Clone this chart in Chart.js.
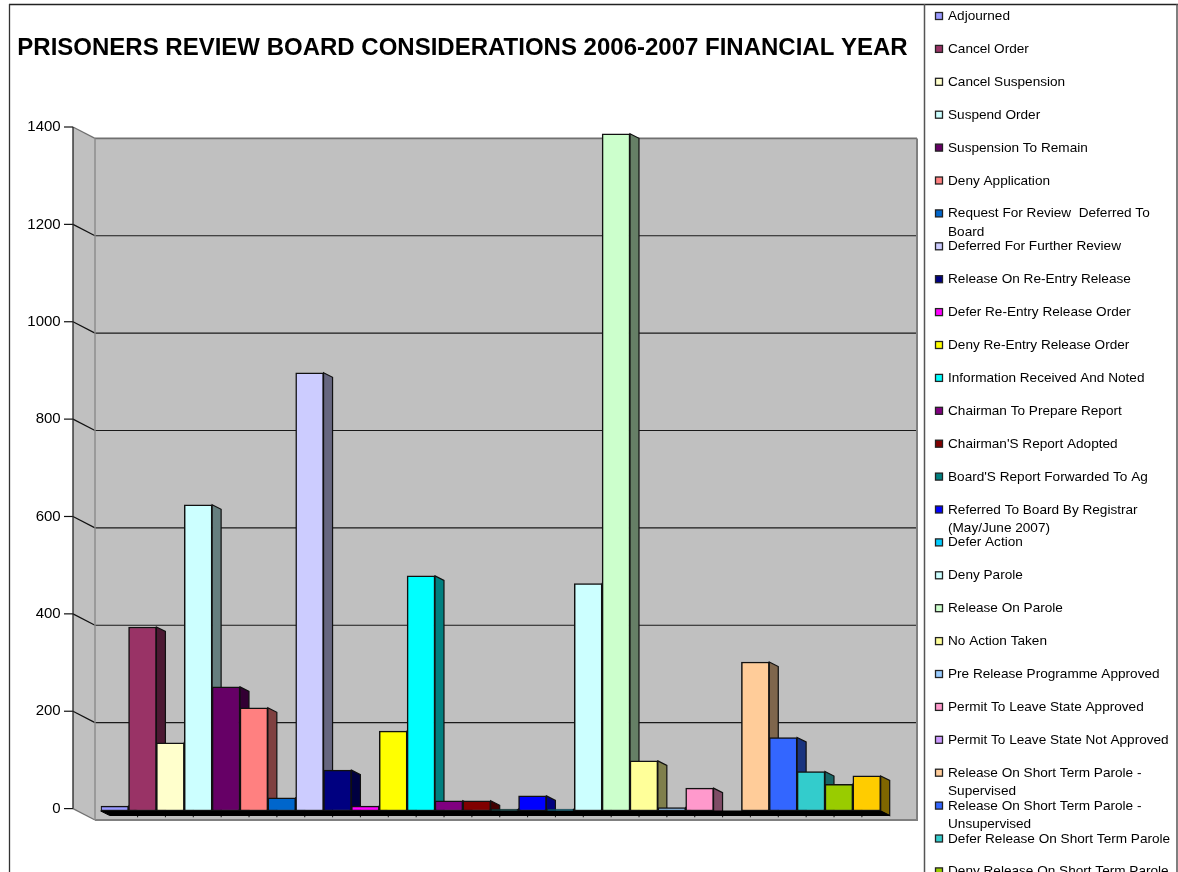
<!DOCTYPE html>
<html>
<head>
<meta charset="utf-8">
<title>Prisoners Review Board Considerations</title>
<style>
  html, body { margin: 0; padding: 0; background: #fff; overflow: hidden; }
  canvas { display: block; }
</style>
<script src="https://cdn.jsdelivr.net/npm/chart.js@4/dist/chart.umd.min.js"></script>
</head>
<body>
<canvas id="board" width="1178" height="872"></canvas>
<script>
const titleText = 'PRISONERS REVIEW BOARD CONSIDERATIONS 2006-2007 FINANCIAL YEAR';

const categories = [
  'Adjourned', 'Cancel Order', 'Cancel Suspension', 'Suspend Order',
  'Suspension To Remain', 'Deny Application', 'Request For Review  Deferred To Board',
  'Deferred For Further Review', 'Release On Re-Entry Release', 'Defer Re-Entry Release Order',
  'Deny Re-Entry Release Order', 'Information Received And Noted', 'Chairman To Prepare Report',
  "Chairman'S Report Adopted", "Board'S Report Forwarded To Ag",
  'Referred To Board By Registrar (May/June 2007)', 'Defer Action', 'Deny Parole',
  'Release On Parole', 'No Action Taken', 'Pre Release Programme Approved',
  'Permit To Leave State Approved', 'Permit To Leave State Not Approved',
  'Release On Short Term Parole - Supervised', 'Release On Short Term Parole - Unsupervised',
  'Defer Release On Short Term Parole', 'Deny Release On Short Term Parole', ''
];

const counts = [
  10, 378, 140, 629, 255, 212, 27, 900, 84, 10, 164, 483, 21, 21,
  4, 31, 4, 467, 1391, 103, 7, 47, 0, 306, 151, 81, 55, 72
];

const barColors = [
  '#9999FF', '#993366', '#FFFFCC', '#CCFFFF', '#660066', '#FF8080', '#0066CC',
  '#CCCCFF', '#000080', '#FF00FF', '#FFFF00', '#00FFFF', '#800080', '#800000',
  '#008080', '#0000FF', '#00CCFF', '#CCFFFF', '#CCFFCC', '#FFFF99', '#99CCFF',
  '#FF99CC', '#CC99FF', '#FFCC99', '#3366FF', '#33CCCC', '#99CC00', '#FFCC00'
];

// Pseudo-3D box geometry, in canvas pixels.
const WALL_DX = 22, WALL_DY = 11.4;      // front axis to back wall
const BAR_DROP = 2.4;                    // bar plane sits just behind the front axis
const SIDE_DX = 9, SIDE_DY = 4.5;        // depth of each column
const AXIS_X = 73, TICK_LEN = 9;
const WALL_RIGHT = 917;

function shade(hex) {
  const n = parseInt(hex.slice(1), 16);
  const half = v => (v >> 1);
  return `rgb(${half(n >> 16 & 255)},${half(n >> 8 & 255)},${half(n & 255)})`;
}

function poly(ctx, pts, fill, stroke, width) {
  ctx.beginPath();
  pts.forEach((p, i) => i ? ctx.lineTo(p[0], p[1]) : ctx.moveTo(p[0], p[1]));
  ctx.closePath();
  if (fill) { ctx.fillStyle = fill; ctx.fill(); }
  if (stroke) { ctx.strokeStyle = stroke; ctx.lineWidth = width || 1; ctx.stroke(); }
}

function line(ctx, x1, y1, x2, y2, color, width) {
  ctx.beginPath();
  ctx.moveTo(x1, y1);
  ctx.lineTo(x2, y2);
  ctx.strokeStyle = color;
  ctx.lineWidth = width || 1;
  ctx.stroke();
}

// Outer frame and the legend's box.
const framePlugin = {
  id: 'frame',
  beforeDraw(chart) {
    const ctx = chart.ctx;
    ctx.save();
    line(ctx, 9, 4.5, 1178, 4.5, '#222', 1.3);
    line(ctx, 9.5, 4, 9.5, 872, '#333', 1.3);
    line(ctx, 924.5, 4, 924.5, 872, '#555', 1.5);
    line(ctx, 1177, 4, 1177, 872, '#555', 1.5);
    ctx.restore();
  }
};

// Walls, gridlines, column sides and the dark underside of the column row.
const boxPlugin = {
  id: 'box',
  beforeDatasetsDraw(chart) {
    const ctx = chart.ctx;
    const y = chart.scales.y;
    const x = chart.scales.x;
    const topY = y.getPixelForValue(1400), zeroY = y.getPixelForValue(0);
    const backX = AXIS_X + WALL_DX;

    ctx.save();
    poly(ctx, [[AXIS_X, topY], [backX, topY + WALL_DY], [backX, zeroY + WALL_DY], [AXIS_X, zeroY]], '#C0C0C0');
    ctx.fillStyle = '#C0C0C0';
    ctx.fillRect(backX, topY + WALL_DY, WALL_RIGHT - backX, zeroY - topY);

    y.ticks.forEach(t => {
      const py = y.getPixelForValue(t.value);
      const isEdge = t.value === 1400 || t.value === 0;
      line(ctx, AXIS_X - TICK_LEN, py, AXIS_X, py, '#111', 1.2);
      line(ctx, AXIS_X, py, backX, py + WALL_DY, isEdge ? '#707070' : '#111', 1.2);
      if (!isEdge) line(ctx, backX, py + WALL_DY, WALL_RIGHT, py + WALL_DY, '#1a1a1a', 1.2);
    });

    line(ctx, backX, topY + WALL_DY, WALL_RIGHT, topY + WALL_DY, '#707070', 1.8);
    line(ctx, backX, zeroY + WALL_DY, WALL_RIGHT + 1, zeroY + WALL_DY, '#808080', 2);
    line(ctx, backX, topY + WALL_DY, backX, zeroY + WALL_DY, '#8A8A8A', 1.4);
    line(ctx, WALL_RIGHT, topY + WALL_DY, WALL_RIGHT, zeroY + WALL_DY, '#808080', 2);
    line(ctx, AXIS_X, topY, AXIS_X, zeroY, '#222', 1.3);

    const bars = chart.getDatasetMeta(0).data;
    const step = bars[1].x - bars[0].x;
    const base = zeroY + BAR_DROP;

    // Category ticks, tucked behind the row of columns.
    for (let i = 1; i < bars.length; i++) {
      const tx = x.getPixelForValue(i) - step / 2 + SIDE_DX;
      line(ctx, tx, base + SIDE_DY, tx, base + SIDE_DY + 1.8, '#222', 1);
    }

    // Side faces go down first; the next column's front covers what it should.
    bars.forEach((bar, i) => {
      const { x: cx, y: by, width } = bar.getProps(['x', 'y', 'width'], true);
      const r = cx + width / 2;
      const top = by + BAR_DROP;
      if (base - top < 0.5) return;
      poly(ctx, [[r, top], [r + SIDE_DX, top + SIDE_DY], [r + SIDE_DX, base + SIDE_DY], [r, base]],
        shade(barColors[i]), '#111', 1.2);
    });

    poly(ctx, [[chart.chartArea.left, base], [chart.chartArea.right, base],
      [chart.chartArea.right + SIDE_DX, base + SIDE_DY], [chart.chartArea.left + SIDE_DX, base + SIDE_DY]],
      '#000', '#000', 1);
    ctx.restore();

    // The fronts themselves are drawn by the bar controller, in the bar plane.
    ctx.save();
    ctx.translate(0, BAR_DROP);
  },
  afterDatasetsDraw(chart) {
    chart.ctx.restore();
  },
  afterLayout(chart) {
    // Centre the heading over the plot part of the page, not the whole canvas.
    chart.titleBlock.left = 0;
    chart.titleBlock.right = 925;
  }
};

// Legend rows keep a fixed pitch, so wrapped labels run into the row below.
const legendPlugin = {
  id: 'boardLegend',
  afterDraw(chart) {
    const ctx = chart.ctx;
    const pitch = 32.9, firstBaseline = 20, markerX = 935.5, textX = 948, maxWidth = 226;
    ctx.save();
    ctx.font = '13.6px "Liberation Sans", Arial, sans-serif';
    ctx.textBaseline = 'alphabetic';
    ctx.textAlign = 'left';
    categories.forEach((name, i) => {
      if (!name) return;
      const baseline = firstBaseline + pitch * i;
      ctx.fillStyle = barColors[i];
      ctx.strokeStyle = '#222';
      ctx.lineWidth = 1.3;
      ctx.fillRect(markerX, baseline - 7.5, 7, 7);
      ctx.strokeRect(markerX, baseline - 7.5, 7, 7);

      const words = name.split(' ');
      const lines = [];
      let cur = '';
      words.forEach(w => {
        const next = cur ? cur + ' ' + w : w;
        if (ctx.measureText(next).width > maxWidth && cur) {
          lines.push(cur);
          cur = w;
        } else {
          cur = next;
        }
      });
      lines.push(cur);
      ctx.fillStyle = '#000';
      lines.forEach((txt, k) => ctx.fillText(txt, textX, baseline + k * 18.5));
    });
    ctx.restore();
  }
};

new Chart(document.getElementById('board'), {
  type: 'bar',
  data: {
    labels: categories,
    datasets: [{
      data: counts,
      backgroundColor: barColors,
      borderColor: '#111',
      borderWidth: 1.5,
      borderSkipped: false,
      categoryPercentage: 1,
      barPercentage: 1
    }]
  },
  plugins: [framePlugin, boxPlugin, legendPlugin],
  options: {
    responsive: false,
    animation: false,
    layout: { padding: { left: 0, top: 0, right: 297.3, bottom: 63.4 } },
    plugins: {
      legend: { display: false },
      tooltip: { enabled: false },
      title: {
        display: true,
        text: titleText,
        color: '#000',
        font: { family: '"Liberation Sans", Arial, sans-serif', size: 24, weight: 'bold', lineHeight: 1.2 },
        padding: { top: 33.5, bottom: 64.7 }
      }
    },
    scales: {
      x: { display: false, offset: true, grid: { display: false } },
      y: {
        min: 0,
        max: 1400,
        afterFit(scale) { scale.width = 100.7; },
        grid: { display: false, drawTicks: false },
        border: { display: false },
        ticks: {
          stepSize: 200,
          padding: 40,
          color: '#000',
          font: { family: '"Liberation Sans", Arial, sans-serif', size: 15 },
          callback: value => String(value)
        }
      }
    }
  }
});
</script>
</body>
</html>
